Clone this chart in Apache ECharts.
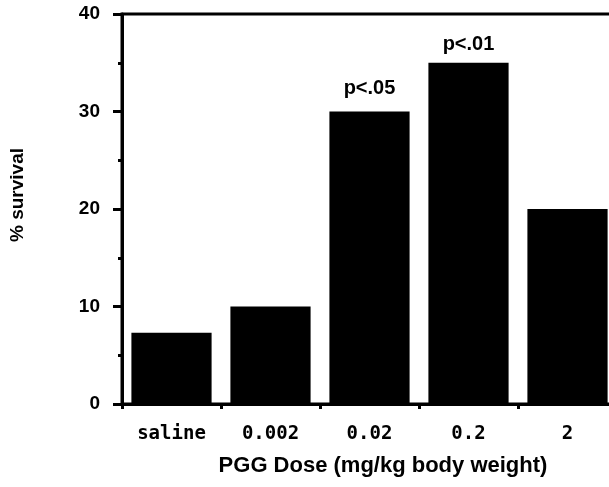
<!DOCTYPE html>
<html><head><meta charset="utf-8">
<script src="https://cdn.jsdelivr.net/npm/echarts@6/dist/echarts.min.js"></script>
<style>html,body{margin:0;padding:0;background:#fff}#c{width:609px;height:487px}</style>
</head><body><div id="c"></div>
<script>
const categories = ['saline', '0.002', '0.02', '0.2', '2'];
const survival = [7.3, 10, 30, 35, 20];
const annotations = ['', '', 'p<.05', 'p<.01', ''];
const yTicks = [0, 10, 20, 30, 40];

const FONT = '"Liberation Sans", Arial, sans-serif';
const MONO = '"DejaVu Sans Mono", monospace';
const labelDistance = [8, 8, 13, 8, 8];
const chart = echarts.init(document.getElementById('c'));
chart.setOption({
  animation: false,
  backgroundColor: '#fff',
  grid: { left: 122, top: 14, width: 495, height: 390, outerBoundsMode: 'none', containLabel: false,
    show: true, borderColor: '#000', borderWidth: 3, backgroundColor: 'transparent' },
  xAxis: {
    type: 'category', data: categories,
    axisLine: { lineStyle: { color: '#000', width: 3 } },
    axisTick: { show: true, length: 5, lineStyle: { color: '#000', width: 3 } },
    axisLabel: { color: '#000', fontFamily: MONO, fontWeight: 'bold', fontSize: 19, margin: 21 },
    name: 'PGG Dose (mg/kg body weight)', nameLocation: 'middle', nameGap: 51,
    nameTextStyle: { color: '#000', fontFamily: FONT, fontWeight: 'bold', fontSize: 22, padding: [0, 0, 0, 27] }
  },
  yAxis: {
    type: 'value', min: yTicks[0], max: yTicks[yTicks.length - 1], interval: 10,
    axisLine: { show: true, lineStyle: { color: '#000', width: 3 } },
    axisTick: { show: true, length: 9, lineStyle: { color: '#000', width: 3 } },
    minorTick: { show: true, splitNumber: 2, length: 4, lineStyle: { color: '#000', width: 3 } },
    splitLine: { show: false },
    axisLabel: { color: '#000', fontFamily: FONT, fontWeight: 'bold', fontSize: 19, margin: 22 },
    name: '% survival', nameLocation: 'middle', nameGap: 95, nameRotate: 90,
    nameTextStyle: { color: '#000', fontFamily: FONT, fontWeight: 'bold', fontSize: 19, padding: [0, 0, 0, 28] }
  },
  series: [{
    type: 'bar', barCategoryGap: '19%',
    itemStyle: { color: '#000' },
    data: survival.map((v, i) => ({
      value: v,
      label: {
        show: annotations[i] !== '', position: 'top', distance: labelDistance[i],
        formatter: annotations[i], color: '#000', fontFamily: FONT, fontWeight: 'bold', fontSize: 20
      }
    }))
  }]
});
</script></body></html>
